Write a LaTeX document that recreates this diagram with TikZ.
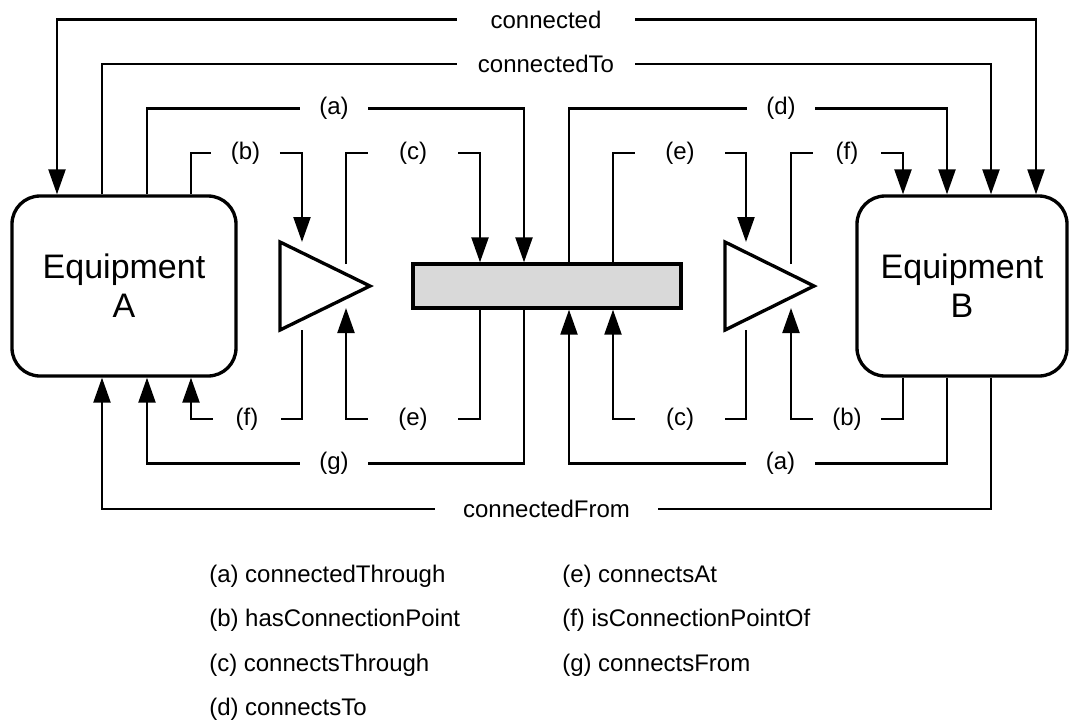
\documentclass[tikz,border=0pt]{standalone}
\usepackage{fontspec}
\setmainfont{Liberation Sans}
\usetikzlibrary{arrows.meta}
\tikzset{
    eqnode/.style = {rectangle, rounded corners=21pt, line width=2.5pt, draw=black, align=center, minimum width=168pt, minimum height=135pt, inner sep=0pt, font=\fontsize{25.5}{29}\selectfont},
    cpbar/.style = {rectangle, line width=2.5pt, draw=black, fill=black!15, minimum width=201pt, minimum height=33pt, inner sep=0pt},
    ampl/.style = {line width=2.5pt, draw=black},
    lbl/.style = {inner sep=0pt, minimum width=51pt, font=\fontsize{18}{21.6}\selectfont},
    lblw/.style = {lbl, minimum width=67.5pt},
    legend/.style = {anchor=west, inner sep=0pt, font=\fontsize{18}{21.6}\selectfont},
    edgel/.style = {line width=1.7pt},
    edgea/.style = {edgel, -{Triangle[length=18.75pt,width=12.75pt]}},
}

\begin{document}
\begin{tikzpicture}[x=0.75pt,y=-0.75pt]
\useasboundingbox (0,0) rectangle (1071,719);
\node[eqnode] at (124,286) (eqa) {Equipment\\A};
\node[eqnode, minimum width=157.5pt] at (962,286) (eqb) {Equipment\\B};
\node[cpbar] at (547,286) (cp) {};
\draw[ampl] (280,242) -- (370,286) -- (280,330) -- cycle;
\draw[ampl] (725,242) -- (814,286) -- (725,330) -- cycle;
\coordinate (a1tl) at (302,242);
\coordinate (a1tr) at (346,264);
\coordinate (a1bl) at (302,330);
\coordinate (a1br) at (346,308);
\coordinate (a2tl) at (746,242);
\coordinate (a2tr) at (791,264);
\coordinate (a2bl) at (746,330);
\coordinate (a2br) at (791,308);
%
\node[lbl, minimum width=133.5pt] at (546,19.5) (lcon) {connected};
\node[lbl, minimum width=133.5pt] at (546,64) (lcto) {connectedTo};
\node[lbl] at (334,108.5) (lat) {(a)};
\node[lbl] at (245.5,153) (lbt) {(b)};
\node[lblw] at (413,153) (lct) {(c)};
\node[lbl] at (781,108.5) (ldt) {(d)};
\node[lblw] at (680,153) (let) {(e)};
\node[lbl] at (847,153) (lft) {(f)};
\node[lbl] at (247,419) (lfb) {(f)};
\node[lblw] at (413,419) (leb) {(e)};
\node[lbl] at (334,463.5) (lg) {(g)};
\node[lbl, minimum width=167pt] at (546.5,509) (lcfr) {connectedFrom};
\node[lblw] at (680,419) (lcb) {(c)};
\node[lbl] at (847,419) (lbb) {(b)};
\node[lbl] at (780.5,463.5) (lab) {(a)};
%
\draw[edgea] (lcon.west) -| (eqa.north -| 57,0);
\draw[edgea] (lcon.east) -| (eqb.north -| 1036,0);
\draw[edgel] (eqa.north -| 102,0) |- (lcto.west);
\draw[edgea] (lcto.east) -| (eqb.north -| 991,0);
\draw[edgel] (eqa.north -| 147,0) |- (lat.west);
\draw[edgea] (lat.east) -| (cp.north -| 524,0);
\draw[edgel] (eqa.north -| 191,0) |- (lbt.west);
\draw[edgea] (lbt.east) -| (a1tl);
\draw[edgel] (a1tr) |- (lct.west);
\draw[edgea] (lct.east) -| (cp.north -| 480,0);
\draw[edgel] (cp.north -| 569,0) |- (ldt.west);
\draw[edgea] (ldt.east) -| (eqb.north -| 947,0);
\draw[edgel] (cp.north -| 613,0) |- (let.west);
\draw[edgea] (let.east) -| (a2tl);
\draw[edgel] (a2tr) |- (lft.west);
\draw[edgea] (lft.east) -| (eqb.north -| 903,0);
%
\draw[edgel] (a1bl) |- (lfb.east);
\draw[edgea] (lfb.west) -| (eqa.south -| 191,0);
\draw[edgel] (cp.south -| 480,0) |- (leb.east);
\draw[edgea] (leb.west) -| (a1br);
\draw[edgel] (cp.south -| 524,0) |- (lg.east);
\draw[edgea] (lg.west) -| (eqa.south -| 147,0);
\draw[edgel] (eqb.south -| 991,0) |- (lcfr.east);
\draw[edgea] (lcfr.west) -| (eqa.south -| 102,0);
\draw[edgel] (a2bl) |- (lcb.east);
\draw[edgea] (lcb.west) -| (cp.south -| 613,0);
\draw[edgel] (eqb.south -| 903,0) |- (lbb.east);
\draw[edgea] (lbb.west) -| (a2br);
\draw[edgel] (eqb.south -| 947,0) |- (lab.east);
\draw[edgea] (lab.west) -| (cp.south -| 569,0);
%
\node[legend] at (209,576) (kya) {(a) connectedThrough};
\node[legend] at (209,620) (kyb) {(b) hasConnectionPoint};
\node[legend] at (209,665) (kyc) {(c) connectsThrough};
\node[legend] at (209,709) (kyd) {(d) connectsTo};
\node[legend] at (562,576) (kye) {(e) connectsAt};
\node[legend] at (562,620) (kyf) {(f) isConnectionPointOf};
\node[legend] at (562,665) (kyg) {(g) connectsFrom};
\end{tikzpicture}
\end{document}
